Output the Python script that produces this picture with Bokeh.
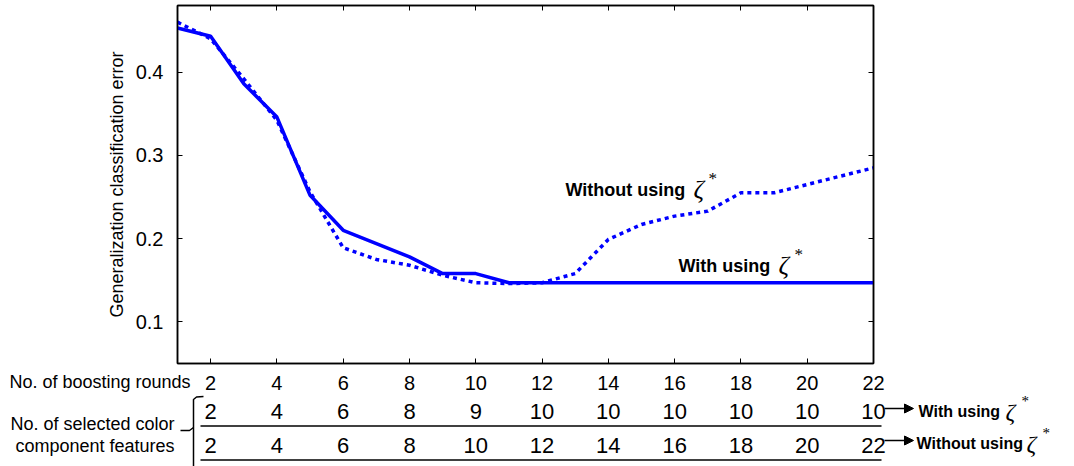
import math
from bokeh.plotting import figure
from bokeh.layouts import column
from bokeh.models import (Range1d, FixedTicker, LinearAxis, Label, Arrow, NormalHead,
                          ColumnDataSource)
from bokeh.core.properties import value
from bokeh.embed import file_html
from bokeh.resources import INLINE

# ---------------- data ----------------
rounds = list(range(1, 23))
err_with = [0.453, 0.443, 0.386, 0.346, 0.252, 0.210, 0.194, 0.178, 0.158, 0.158, 0.147,
            0.147, 0.147, 0.147, 0.147, 0.147, 0.147, 0.147, 0.147, 0.147, 0.147, 0.147]
err_without = [0.460, 0.440, 0.392, 0.342, 0.256, 0.189, 0.175, 0.168, 0.156, 0.147, 0.146,
               0.147, 0.158, 0.199, 0.217, 0.227, 0.233, 0.255, 0.255, 0.265, 0.275, 0.285]
tick_rounds = [2, 4, 6, 8, 10, 12, 14, 16, 18, 20, 22]
y_ticks = [0.1, 0.2, 0.3, 0.4]
feats_with = [2, 4, 6, 8, 9, 10, 10, 10, 10, 10, 10]
feats_without = [2, 4, 6, 8, 10, 12, 14, 16, 18, 20, 22]

# ---------------- layout ----------------
FONT = "Liberation Sans"
SERIF = "Liberation Serif"
BLUE = "#0000FF"
FIG_W = 1074
ML, MR, MT, MB = 177, 201, 5, 5
FH = 358
FIG_H1 = MT + FH + MB          # 368
FIG_HT = 466 - FIG_H1          # 98
X0, X1 = 1, 22
Y0, Y1 = 0.05, 0.48
fw = FIG_W - ML - MR


def dx(px):
    return X0 + (px - ML) * (X1 - X0) / fw


def dy(py):
    return Y0 + (MT + FH - py) * (Y1 - Y0) / FH


def ty(py):
    return py - FIG_H1


p = figure(width=FIG_W, height=FIG_H1, x_range=Range1d(X0, X1), y_range=Range1d(Y0, Y1),
           output_backend="svg", toolbar_location=None,
           min_border_left=ML, min_border_right=MR, min_border_top=MT, min_border_bottom=MB)
p.xgrid.visible = False
p.ygrid.visible = False
p.outline_line_color = "black"
p.outline_line_width = 1.5
p.background_fill_color = "white"
p.border_fill_color = "white"


def style_axis(ax, ticks, show_labels, standoff):
    ax.ticker = FixedTicker(ticks=ticks)
    ax.major_tick_in = 5
    ax.major_tick_out = 0
    ax.minor_tick_line_color = None
    ax.major_tick_line_color = "black"
    ax.major_tick_line_width = 1
    ax.axis_line_color = "black"
    ax.axis_line_width = 1.5
    ax.major_label_text_font = FONT
    ax.major_label_text_color = "black"
    ax.major_label_standoff = standoff
    if show_labels:
        ax.major_label_text_font_size = "20px"
    else:
        ax.major_label_text_font_size = "1px"
        ax.major_label_overrides = {t: "" for t in ticks}


style_axis(p.xaxis[0], tick_rounds, False, 0)
style_axis(p.yaxis[0], y_ticks, True, 14)
p.yaxis[0].axis_label = "Generalization classification error"
p.yaxis[0].axis_label_text_font = FONT
p.yaxis[0].axis_label_text_font_size = "18px"
p.yaxis[0].axis_label_text_font_style = "normal"
p.yaxis[0].axis_label_text_color = "black"
p.yaxis[0].axis_label_standoff = 6
top_ax = LinearAxis()
style_axis(top_ax, tick_rounds, False, 0)
p.add_layout(top_ax, "above")
right_ax = LinearAxis()
style_axis(right_ax, y_ticks, False, 0)
p.add_layout(right_ax, "right")

src = ColumnDataSource(dict(r=rounds, w=err_with, wo=err_without))
p.line("r", "w", source=src, line_color=BLUE, line_width=3.5)
p.line("r", "wo", source=src, line_color=BLUE, line_width=3.5, line_dash="4 4")


def zeta_label(fig, left_px, base_text_px, text, size, zeta_x, zeta_size, star_x, star_base, star_size,
               conv_x, conv_y):
    fig.add_layout(Label(x=conv_x(left_px), y=conv_y(base_text_px), text=text, text_align="left",
                         text_baseline="alphabetic", text_font=FONT, text_font_size=size,
                         text_font_style="bold", text_color="black"))
    fig.add_layout(Label(x=conv_x(zeta_x), y=conv_y(base_text_px), text="ζ", text_align="left",
                         text_baseline="alphabetic", text_font=SERIF, text_font_size=zeta_size,
                         text_font_style="italic", text_color="black"))
    fig.add_layout(Label(x=conv_x(star_x), y=conv_y(star_base), text="*", text_align="left",
                         text_baseline="alphabetic", text_font=SERIF, text_font_size=star_size,
                         text_color="black"))


zeta_label(p, 565, 189, "Without using", "18px", 693, "26px", 708, 178, "17px", dx, dy)
zeta_label(p, 678, 265, "With using", "18px", 778, "26px", 794, 254, "17px", dx, dy)

# ---------------- table figure ----------------
t = figure(width=FIG_W, height=FIG_HT, x_range=Range1d(dx(0), dx(FIG_W)),
           y_range=Range1d(FIG_HT, 0), output_backend="svg", toolbar_location=None,
           min_border_left=0, min_border_right=0, min_border_top=0, min_border_bottom=0,
           x_axis_type=None, y_axis_type=None)
t.xgrid.visible = False
t.ygrid.visible = False
t.outline_line_color = None
t.background_fill_color = "white"
t.border_fill_color = "white"
for fig in (p, t):
    try:
        fig.frame_align = False
    except Exception:
        pass

# boosting rounds row (x axis tick labels)
row0 = ColumnDataSource(dict(x=tick_rounds, y=[ty(382)] * len(tick_rounds), s=[str(v) for v in tick_rounds]))
t.text(x="x", y="y", text="s", source=row0, text_font=value(FONT), text_font_size="20px",
       text_align="center", text_baseline="middle", text_color="black")
t.text(x=[dx(190)], y=[ty(381)], text=["No. of boosting rounds"], text_font=value(FONT),
       text_font_size="18px", text_align="right", text_baseline="middle", text_color="black")

row1 = ColumnDataSource(dict(x=tick_rounds, y=[ty(411)] * len(tick_rounds), s=[str(v) for v in feats_with]))
row2 = ColumnDataSource(dict(x=tick_rounds, y=[ty(445)] * len(tick_rounds), s=[str(v) for v in feats_without]))
for s in (row1, row2):
    t.text(x="x", y="y", text="s", source=s, text_font=value(FONT), text_font_size="22px",
           text_align="center", text_baseline="middle", text_color="black")

# underlines
t.segment(x0=[dx(200), dx(200)], y0=[ty(425.5), ty(459.5)], x1=[dx(881), dx(881)], y1=[ty(425.5), ty(459.5)],
          line_color="black", line_width=1.5)
# brace
t.line(x=[dx(203), dx(196), dx(193), dx(193)], y=[ty(396), ty(396.5), ty(399), ty(466)],
       line_color="black", line_width=1.5)
t.line(x=[dx(180), dx(189), dx(193)], y=[ty(430), ty(430), ty(427)], line_color="black", line_width=1.5)

# left texts
t.text(x=[dx(174), dx(174)], y=[ty(423), ty(445)], text=["No. of selected color", "component features"],
       text_font=value(FONT), text_font_size="18px", text_align="right", text_baseline="middle",
       text_color="black")

# arrows
for yy in (408, 440):
    t.add_layout(Arrow(end=NormalHead(size=9, fill_color="black", line_color="black"),
                       x_start=dx(884), y_start=ty(yy), x_end=dx(913), y_end=ty(yy),
                       line_color="black", line_width=1.5))

zeta_label(t, 918, 411, "With using", "16px", 1005, "24px", 1021, 400, "15px", dx, ty)
zeta_label(t, 916, 443, "Without using", "16px", 1026, "24px", 1042, 432, "15px", dx, ty)

layout = column(p, t, spacing=0)
open("out.html", "w").write(file_html(layout, INLINE))
